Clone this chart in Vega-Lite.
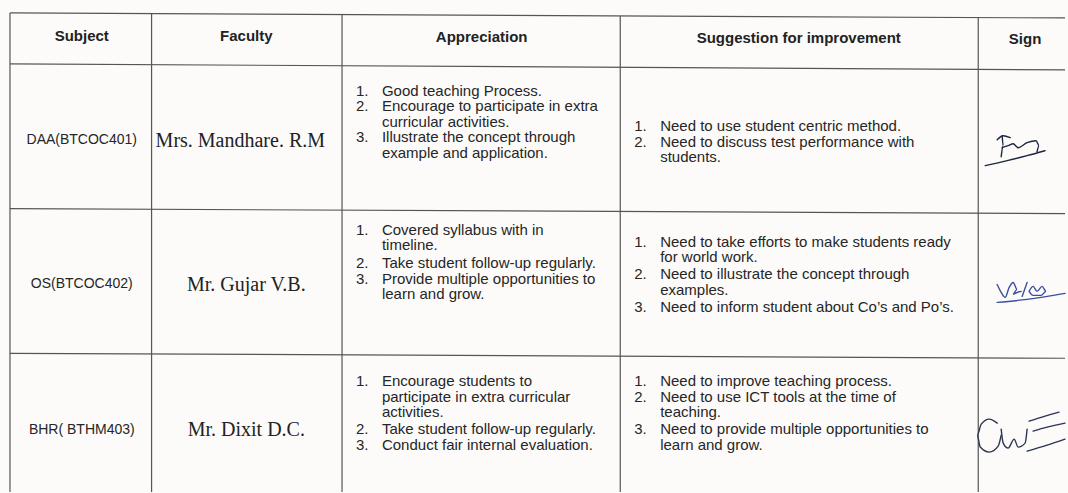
{
  "$schema": "https://vega.github.io/schema/vega-lite/v6.json",
  "autosize": {"type": "fit", "contains": "padding"},
  "width": 1068,
  "height": 493,
  "padding": 0,
  "background": "#fcfbf9",
  "config": {"view": {"stroke": null}},
  "datasets": {
    "grid": [
      {"x1": 10, "x2": 1068, "y1": 13, "y2": 18},
      {"x1": 10, "x2": 1068, "y1": 64, "y2": 70},
      {"x1": 10, "x2": 1068, "y1": 209, "y2": 214},
      {"x1": 10, "x2": 1068, "y1": 354, "y2": 359},
      {"x1": 10, "x2": 10, "y1": 13, "y2": 493},
      {"x1": 152, "x2": 152, "y1": 14, "y2": 493},
      {"x1": 343, "x2": 343, "y1": 15, "y2": 493},
      {"x1": 622, "x2": 622, "y1": 16, "y2": 493},
      {"x1": 981, "x2": 981, "y1": 17, "y2": 493}
    ],
    "cells": [
      {"kind": "header", "x": 82, "y": 36, "text": "Subject"},
      {"kind": "header", "x": 247, "y": 36, "text": "Faculty"},
      {"kind": "header", "x": 483, "y": 37, "text": "Appreciation"},
      {"kind": "header", "x": 801, "y": 38, "text": "Suggestion for improvement"},
      {"kind": "header", "x": 1028, "y": 39, "text": "Sign"},

      {"kind": "subject", "x": 82, "y": 140, "text": "DAA(BTCOC401)"},
      {"kind": "faculty", "x": 241, "y": 141, "text": "Mrs. Mandhare. R.M"},
      {"kind": "num", "x": 357, "y": 91, "text": "1."},
      {"kind": "body", "x": 383, "y": 91, "text": "Good teaching Process."},
      {"kind": "num", "x": 357, "y": 106, "text": "2."},
      {"kind": "body", "x": 383, "y": 106, "text": "Encourage to participate in extra"},
      {"kind": "body", "x": 383, "y": 122, "text": "curricular activities."},
      {"kind": "num", "x": 357, "y": 137, "text": "3."},
      {"kind": "body", "x": 383, "y": 137, "text": "Illustrate the concept through"},
      {"kind": "body", "x": 383, "y": 153, "text": "example and application."},
      {"kind": "num", "x": 636, "y": 126, "text": "1."},
      {"kind": "body", "x": 662, "y": 126, "text": "Need to use student centric method."},
      {"kind": "num", "x": 636, "y": 142, "text": "2."},
      {"kind": "body", "x": 662, "y": 142, "text": "Need to discuss test performance with"},
      {"kind": "body", "x": 662, "y": 157, "text": "students."},

      {"kind": "subject", "x": 82, "y": 285, "text": "OS(BTCOC402)"},
      {"kind": "faculty", "x": 247, "y": 286, "text": "Mr. Gujar V.B."},
      {"kind": "num", "x": 357, "y": 230, "text": "1."},
      {"kind": "body", "x": 383, "y": 230, "text": "Covered syllabus with in"},
      {"kind": "body", "x": 383, "y": 245, "text": "timeline."},
      {"kind": "num", "x": 357, "y": 264, "text": "2."},
      {"kind": "body", "x": 383, "y": 264, "text": "Take student follow-up regularly."},
      {"kind": "num", "x": 357, "y": 280, "text": "3."},
      {"kind": "body", "x": 383, "y": 280, "text": "Provide multiple opportunities to"},
      {"kind": "body", "x": 383, "y": 295, "text": "learn and grow."},
      {"kind": "num", "x": 636, "y": 242, "text": "1."},
      {"kind": "body", "x": 662, "y": 242, "text": "Need to take efforts to make students ready"},
      {"kind": "body", "x": 662, "y": 258, "text": "for world work."},
      {"kind": "num", "x": 636, "y": 275, "text": "2."},
      {"kind": "body", "x": 662, "y": 275, "text": "Need to illustrate the concept through"},
      {"kind": "body", "x": 662, "y": 291, "text": "examples."},
      {"kind": "num", "x": 636, "y": 308, "text": "3."},
      {"kind": "body", "x": 662, "y": 308, "text": "Need to inform student about Co’s and Po’s."},

      {"kind": "subject", "x": 82, "y": 431, "text": "BHR( BTHM403)"},
      {"kind": "faculty", "x": 247, "y": 431, "text": "Mr. Dixit D.C."},
      {"kind": "num", "x": 357, "y": 382, "text": "1."},
      {"kind": "body", "x": 383, "y": 382, "text": "Encourage students to"},
      {"kind": "body", "x": 383, "y": 398, "text": "participate in extra curricular"},
      {"kind": "body", "x": 383, "y": 413, "text": "activities."},
      {"kind": "num", "x": 357, "y": 430, "text": "2."},
      {"kind": "body", "x": 383, "y": 430, "text": "Take student follow-up regularly."},
      {"kind": "num", "x": 357, "y": 446, "text": "3."},
      {"kind": "body", "x": 383, "y": 446, "text": "Conduct fair internal evaluation."},
      {"kind": "num", "x": 636, "y": 382, "text": "1."},
      {"kind": "body", "x": 662, "y": 382, "text": "Need to improve teaching process."},
      {"kind": "num", "x": 636, "y": 398, "text": "2."},
      {"kind": "body", "x": 662, "y": 398, "text": "Need to use ICT tools at the time of"},
      {"kind": "body", "x": 662, "y": 413, "text": "teaching."},
      {"kind": "num", "x": 636, "y": 430, "text": "3."},
      {"kind": "body", "x": 662, "y": 430, "text": "Need to provide multiple opportunities to"},
      {"kind": "body", "x": 662, "y": 446, "text": "learn and grow."}
    ],
    "sign": [
      {"sig": "a", "s": "a1", "o": 1, "x": 1005, "y": 136},
      {"sig": "a", "s": "a1", "o": 2, "x": 1006, "y": 146},
      {"sig": "a", "s": "a1", "o": 3, "x": 1004, "y": 157},
      {"sig": "a", "s": "a2", "o": 1, "x": 1000, "y": 140},
      {"sig": "a", "s": "a2", "o": 2, "x": 1006, "y": 136},
      {"sig": "a", "s": "a2", "o": 3, "x": 1013, "y": 138},
      {"sig": "a", "s": "a3", "o": 1, "x": 1005, "y": 148},
      {"sig": "a", "s": "a3", "o": 2, "x": 1011, "y": 146},
      {"sig": "a", "s": "a3", "o": 3, "x": 1016, "y": 144},
      {"sig": "a", "s": "a3", "o": 4, "x": 1021, "y": 148},
      {"sig": "a", "s": "a3", "o": 5, "x": 1030, "y": 143},
      {"sig": "a", "s": "a3", "o": 6, "x": 1039, "y": 141},
      {"sig": "a", "s": "a3", "o": 7, "x": 1042, "y": 146},
      {"sig": "a", "s": "a3", "o": 8, "x": 1040, "y": 152},
      {"sig": "a", "s": "a4", "o": 1, "x": 988, "y": 166},
      {"sig": "a", "s": "a4", "o": 2, "x": 1010, "y": 161},
      {"sig": "a", "s": "a4", "o": 3, "x": 1030, "y": 156},
      {"sig": "a", "s": "a4", "o": 4, "x": 1048, "y": 151},

      {"sig": "b", "s": "b1", "o": 1, "x": 1000, "y": 285},
      {"sig": "b", "s": "b1", "o": 2, "x": 1004, "y": 293},
      {"sig": "b", "s": "b1", "o": 3, "x": 1008, "y": 298},
      {"sig": "b", "s": "b1", "o": 4, "x": 1012, "y": 288},
      {"sig": "b", "s": "b1", "o": 5, "x": 1016, "y": 283},
      {"sig": "b", "s": "b1", "o": 6, "x": 1020, "y": 290},
      {"sig": "b", "s": "b1", "o": 7, "x": 1016, "y": 295},
      {"sig": "b", "s": "b1", "o": 8, "x": 1024, "y": 292},
      {"sig": "b", "s": "b2", "o": 1, "x": 1025, "y": 297},
      {"sig": "b", "s": "b2", "o": 2, "x": 1030, "y": 283},
      {"sig": "b", "s": "b3", "o": 1, "x": 1032, "y": 292},
      {"sig": "b", "s": "b3", "o": 2, "x": 1036, "y": 287},
      {"sig": "b", "s": "b3", "o": 3, "x": 1040, "y": 292},
      {"sig": "b", "s": "b3", "o": 4, "x": 1045, "y": 287},
      {"sig": "b", "s": "b3", "o": 5, "x": 1049, "y": 292},
      {"sig": "b", "s": "b3", "o": 6, "x": 1044, "y": 296},
      {"sig": "b", "s": "b3", "o": 7, "x": 1036, "y": 296},
      {"sig": "b", "s": "b3", "o": 8, "x": 1032, "y": 292},
      {"sig": "b", "s": "b4", "o": 1, "x": 1000, "y": 303},
      {"sig": "b", "s": "b4", "o": 2, "x": 1030, "y": 300},
      {"sig": "b", "s": "b4", "o": 3, "x": 1068, "y": 294},

      {"sig": "c", "s": "c1", "o": 1, "x": 1000, "y": 424},
      {"sig": "c", "s": "c1", "o": 2, "x": 992, "y": 420},
      {"sig": "c", "s": "c1", "o": 3, "x": 984, "y": 425},
      {"sig": "c", "s": "c1", "o": 4, "x": 980, "y": 436},
      {"sig": "c", "s": "c1", "o": 5, "x": 983, "y": 448},
      {"sig": "c", "s": "c1", "o": 6, "x": 992, "y": 453},
      {"sig": "c", "s": "c1", "o": 7, "x": 1001, "y": 447},
      {"sig": "c", "s": "c1", "o": 8, "x": 1004, "y": 436},
      {"sig": "c", "s": "c2", "o": 1, "x": 1004, "y": 430},
      {"sig": "c", "s": "c2", "o": 2, "x": 1006, "y": 444},
      {"sig": "c", "s": "c2", "o": 3, "x": 1011, "y": 449},
      {"sig": "c", "s": "c2", "o": 4, "x": 1017, "y": 440},
      {"sig": "c", "s": "c2", "o": 5, "x": 1021, "y": 448},
      {"sig": "c", "s": "c2", "o": 6, "x": 1028, "y": 444},
      {"sig": "c", "s": "c2", "o": 7, "x": 1030, "y": 430},
      {"sig": "c", "s": "c3", "o": 1, "x": 1032, "y": 422},
      {"sig": "c", "s": "c3", "o": 2, "x": 1048, "y": 417},
      {"sig": "c", "s": "c3", "o": 3, "x": 1062, "y": 413},
      {"sig": "c", "s": "c4", "o": 1, "x": 1036, "y": 432},
      {"sig": "c", "s": "c4", "o": 2, "x": 1050, "y": 428},
      {"sig": "c", "s": "c4", "o": 3, "x": 1068, "y": 424},
      {"sig": "c", "s": "c5", "o": 1, "x": 1030, "y": 452},
      {"sig": "c", "s": "c5", "o": 2, "x": 1050, "y": 446},
      {"sig": "c", "s": "c5", "o": 3, "x": 1068, "y": 440}
    ]
  },
  "layer": [
    {
      "data": {"name": "grid"},
      "mark": {"type": "rule", "color": "#555555", "strokeWidth": 1.2},
      "encoding": {
        "x": {"field": "x1", "type": "quantitative", "scale": {"domain": [0, 1068], "nice": false, "zero": false}, "axis": null},
        "x2": {"field": "x2"},
        "y": {"field": "y1", "type": "quantitative", "scale": {"domain": [493, 0], "nice": false, "zero": false}, "axis": null},
        "y2": {"field": "y2"}
      }
    },
    {
      "data": {"name": "cells"},
      "transform": [{"filter": "datum.kind === 'header'"}],
      "mark": {"type": "text", "font": "Liberation Sans", "fontSize": 15, "fontWeight": "bold", "color": "#222222", "align": "center", "baseline": "middle"},
      "encoding": {
        "x": {"field": "x", "type": "quantitative", "scale": {"domain": [0, 1068], "nice": false, "zero": false}, "axis": null},
        "y": {"field": "y", "type": "quantitative", "scale": {"domain": [493, 0], "nice": false, "zero": false}, "axis": null},
        "text": {"field": "text"}
      }
    },
    {
      "data": {"name": "cells"},
      "transform": [{"filter": "datum.kind === 'subject'"}],
      "mark": {"type": "text", "font": "Liberation Sans", "fontSize": 14, "color": "#262626", "align": "center", "baseline": "middle"},
      "encoding": {
        "x": {"field": "x", "type": "quantitative", "scale": {"domain": [0, 1068], "nice": false, "zero": false}, "axis": null},
        "y": {"field": "y", "type": "quantitative", "scale": {"domain": [493, 0], "nice": false, "zero": false}, "axis": null},
        "text": {"field": "text"}
      }
    },
    {
      "data": {"name": "cells"},
      "transform": [{"filter": "datum.kind === 'faculty'"}],
      "mark": {"type": "text", "font": "Liberation Serif", "fontSize": 20, "color": "#222222", "align": "center", "baseline": "middle"},
      "encoding": {
        "x": {"field": "x", "type": "quantitative", "scale": {"domain": [0, 1068], "nice": false, "zero": false}, "axis": null},
        "y": {"field": "y", "type": "quantitative", "scale": {"domain": [493, 0], "nice": false, "zero": false}, "axis": null},
        "text": {"field": "text"}
      }
    },
    {
      "data": {"name": "cells"},
      "transform": [{"filter": "datum.kind === 'num' || datum.kind === 'body'"}],
      "mark": {"type": "text", "font": "Liberation Sans", "fontSize": 15, "color": "#262626", "align": "left", "baseline": "middle"},
      "encoding": {
        "x": {"field": "x", "type": "quantitative", "scale": {"domain": [0, 1068], "nice": false, "zero": false}, "axis": null},
        "y": {"field": "y", "type": "quantitative", "scale": {"domain": [493, 0], "nice": false, "zero": false}, "axis": null},
        "text": {"field": "text"}
      }
    },
    {
      "data": {"name": "sign"},
      "mark": {"type": "line", "strokeWidth": 1.4, "strokeCap": "round", "interpolate": "monotone"},
      "encoding": {
        "x": {"field": "x", "type": "quantitative", "scale": {"domain": [0, 1068], "nice": false, "zero": false}, "axis": null},
        "y": {"field": "y", "type": "quantitative", "scale": {"domain": [493, 0], "nice": false, "zero": false}, "axis": null},
        "detail": {"field": "s"},
        "order": {"field": "o"},
        "color": {"field": "sig", "type": "nominal", "scale": {"domain": ["a", "b", "c"], "range": ["#1e2540", "#3a4f9e", "#2c3552"]}, "legend": null}
      }
    }
  ]
}
